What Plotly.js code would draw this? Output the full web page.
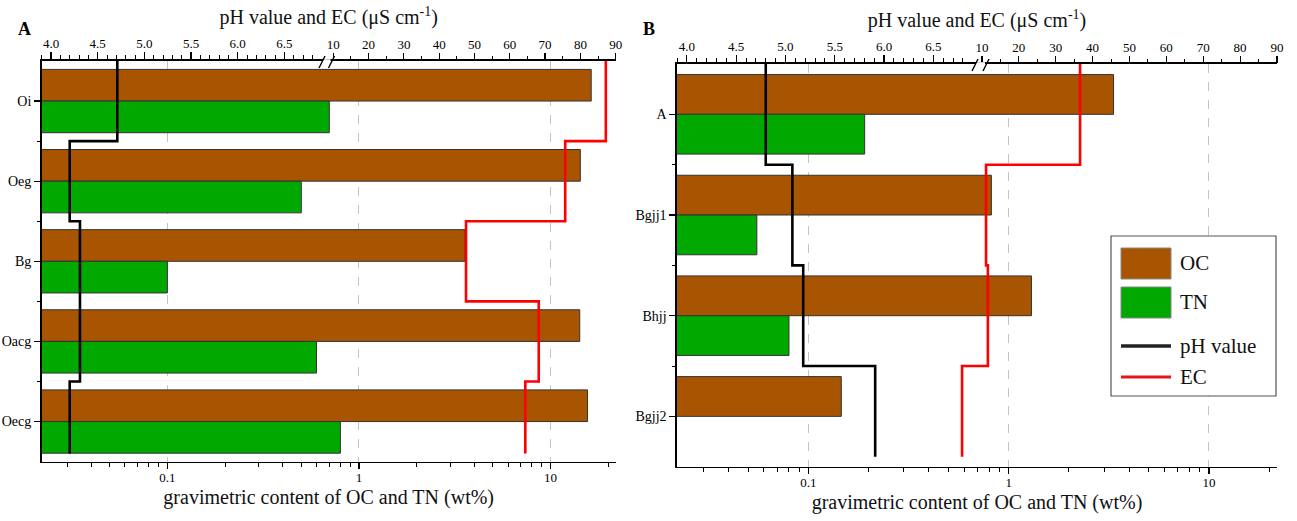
<!DOCTYPE html>
<html><head><meta charset="utf-8">
<script src="https://cdn.plot.ly/plotly-3.0.1.min.js"></script>
<style>html,body{margin:0;padding:0;background:#fff}#chart{width:1297px;height:521px}</style>
</head><body><div id="chart"></div>
<script>
// ---------- data ----------
const horizonsA = ['Oi', 'Oeg', 'Bg', 'Oacg', 'Oecg'];
const ocA = [16.3, 14.3, 3.58, 14.2, 15.6];
const tnA = [0.70, 0.50, 0.10, 0.60, 0.80];
const phA = [4.71, 4.20, 4.31, 4.31, 4.20];
const ecA = [87.2, 75.7, 47.6, 68.2, 64.4];

const horizonsB = ['A', 'Bgjj1', 'Bhjj', 'Bgjj2'];
const ocB = [3.34, 0.82, 1.30, 0.146];
const tnB = [0.191, 0.0553, 0.080, null];
const phB = [4.80, 5.07, 5.18, 5.91];
const ecB = [36.6, 11.1, 11.6, 4.6];

// ---------- tick labels ----------
const logTickVals = [0.1, 1, 10];
const logTickText = ['0.1', '1', '10'];
const logMinorVals = [0.03, 0.04, 0.05, 0.06, 0.07, 0.08, 0.09, 0.2, 0.3, 0.4, 0.5, 0.6, 0.7, 0.8, 0.9, 2, 3, 4, 5, 6, 7, 8, 9, 20];
const phTickVals = [4.0, 4.5, 5.0, 5.5, 6.0, 6.5];
const phTickText = ['4.0', '4.5', '5.0', '5.5', '6.0', '6.5'];
const phMinorVals = [3.9, 4.1, 4.2, 4.3, 4.4, 4.6, 4.7, 4.8, 4.9, 5.1, 5.2, 5.3, 5.4, 5.6, 5.7, 5.8, 5.9, 6.1, 6.2, 6.3, 6.4, 6.6, 6.7, 6.8];
const ecTickVals = [10, 20, 30, 40, 50, 60, 70, 80, 90];
const ecTickText = ['10', '20', '30', '40', '50', '60', '70', '80', '90'];
const ecMinorVals = [15, 25, 35, 45, 55, 65, 75, 85];

const seriesNames = ['OC', 'TN', 'pH value', 'EC'];
const xTitle = 'gravimetric content of OC and TN (wt%)';
const topTitle = 'pH value and EC (μS cm<sup>-1</sup>)';

// ---------- style ----------
const W = 1297, H = 521;
const FONT = 'Liberation Serif';
const cOC = 'rgb(168,84,0)', cTN = 'rgb(0,168,0)', cPH = '#000000', cEC = '#ff0000';
const barLine = {color: '#333333', width: 1};
const boxA = {x0: 41.7, x1: 615.7, y0: 61, y1: 461.6};
const boxB = {x0: 677, x1: 1277, y0: 64, y1: 466.7};
const px = x => x / W, py = y => 1 - y / H;

function idx(arr) { return arr.map((_, i) => i); }
function stepX(vals) { const o = []; vals.forEach(v => { o.push(v, v); }); return o; }
function stepY(n) { const o = []; for (let i = 0; i < n; i++) { o.push(i === 0 ? -0.5 : i - 0.5, i === n - 1 ? i + 0.4 : i + 0.5); } return o; }

const traces = [
  {type: 'bar', orientation: 'h', name: seriesNames[0], x: ocA, y: idx(horizonsA), xaxis: 'x', yaxis: 'y', marker: {color: cOC, line: barLine}},
  {type: 'bar', orientation: 'h', name: seriesNames[1], x: tnA, y: idx(horizonsA), xaxis: 'x', yaxis: 'y', marker: {color: cTN, line: barLine}},
  {type: 'scatter', mode: 'lines', name: seriesNames[2], x: stepX(phA), y: stepY(phA.length), xaxis: 'x2', yaxis: 'y', line: {color: cPH, width: 2.6}},
  {type: 'scatter', mode: 'lines', name: seriesNames[3], x: stepX(ecA), y: stepY(ecA.length), xaxis: 'x3', yaxis: 'y', line: {color: cEC, width: 2.6}},
  {type: 'bar', orientation: 'h', name: seriesNames[0], x: ocB, y: idx(horizonsB), xaxis: 'x4', yaxis: 'y2', marker: {color: cOC, line: barLine}},
  {type: 'bar', orientation: 'h', name: seriesNames[1], x: tnB, y: idx(horizonsB), xaxis: 'x4', yaxis: 'y2', marker: {color: cTN, line: barLine}},
  {type: 'scatter', mode: 'lines', name: seriesNames[2], x: stepX(phB), y: stepY(phB.length), xaxis: 'x5', yaxis: 'y2', line: {color: cPH, width: 2.6}},
  {type: 'scatter', mode: 'lines', name: seriesNames[3], x: stepX(ecB), y: stepY(ecB.length), xaxis: 'x6', yaxis: 'y2', line: {color: cEC, width: 2.6}}
];

const tickFont = {family: FONT, size: 13, color: '#000'};
function logAxis(box, anchor) {
  return {type: 'log', domain: [px(box.x0), px(box.x1)], anchor: anchor, range: [-1.656, 1.34],
    tickmode: 'array', tickvals: logTickVals, ticktext: logTickText,
    ticks: 'outside', ticklen: 6, tickwidth: 1.2, tickcolor: '#000', ticklabelstandoff: -3,
    showline: true, linewidth: 1.6, linecolor: '#000',
    showgrid: true, gridcolor: '#c4c4c4', griddash: 'dash', gridwidth: 1, zeroline: false,
    tickfont: tickFont,
    minor: {tickmode: 'array', tickvals: logMinorVals, ticks: 'outside', ticklen: 4, tickwidth: 1, tickcolor: '#000', showgrid: false},
    title: {text: xTitle, font: {family: FONT, size: 20, color: '#111'}, standoff: 6}, automargin: false, fixedrange: true};
}
function phAxis(over, anchor, maxPh) {
  return {overlaying: over, anchor: anchor, side: 'top', range: [3.9, maxPh],
    tickmode: 'array', tickvals: phTickVals, ticktext: phTickText,
    ticks: 'outside', ticklen: 7, tickwidth: 1.2, tickcolor: '#000', ticklabelstandoff: -1,
    showline: true, linewidth: 1.6, linecolor: '#000', showgrid: false, zeroline: false,
    tickfont: tickFont,
    minor: {tickmode: 'array', tickvals: phMinorVals, ticks: 'outside', ticklen: 4, tickwidth: 1, tickcolor: '#000', showgrid: false},
    title: {text: topTitle, font: {family: FONT, size: 20, color: '#111'}, standoff: 6}, automargin: false, fixedrange: true};
}
function ecAxis(over, anchor, minEc) {
  return {overlaying: over, anchor: anchor, side: 'top', range: [minEc, 90],
    tickmode: 'array', tickvals: ecTickVals, ticktext: ecTickText,
    ticks: 'outside', ticklen: 7, tickwidth: 1.2, tickcolor: '#000', ticklabelstandoff: -1,
    showline: false, showgrid: false, zeroline: false, tickfont: tickFont,
    minor: {tickmode: 'array', tickvals: ecMinorVals, ticks: 'outside', ticklen: 4, tickwidth: 1, tickcolor: '#000', showgrid: false},
    automargin: false, fixedrange: true};
}
function catAxis(box, anchor, cats) {
  const n = cats.length;
  return {domain: [py(box.y1), py(box.y0)], anchor: anchor, range: [n - 0.5, -0.5],
    tickmode: 'array', tickvals: idx(cats), ticktext: cats,
    ticks: 'outside', ticklen: 6, tickwidth: 1.2, tickcolor: '#000',
    showline: true, linewidth: 1.6, linecolor: '#000', showgrid: false, zeroline: false,
    tickfont: {family: FONT, size: 14, color: '#000'},
    minor: {tickmode: 'array', tickvals: idx(cats).slice(1).map(i => i - 0.5), ticks: 'outside', ticklen: 3, tickwidth: 1, tickcolor: '#000', showgrid: false},
    automargin: false, fixedrange: true};
}

// break marks and legend (decorations in paper coordinates)
const shapes = [];
function breakMark(c1, c2, yAxisPx) {
  shapes.push({type: 'rect', xref: 'paper', yref: 'paper', x0: px(c1 + 1), x1: px(c2 - 1), y0: py(yAxisPx + 1.8), y1: py(yAxisPx - 1.8), fillcolor: '#fff', line: {width: 0}, layer: 'above'});
  [c1, c2].forEach(c => shapes.push({type: 'line', xref: 'paper', yref: 'paper', x0: px(c - 3), y0: py(yAxisPx + 7), x1: px(c + 3), y1: py(yAxisPx - 5), line: {color: '#000', width: 1.4}, layer: 'above'}));
}
breakMark(322, 331.5, boxA.y0);
breakMark(975, 986, boxB.y0);

shapes.push({type: 'rect', xref: 'paper', yref: 'paper', x0: px(1111), x1: px(1276), y0: py(396), y1: py(236), fillcolor: '#fff', line: {color: '#555', width: 1.2}, layer: 'above'});
shapes.push({type: 'rect', xref: 'paper', yref: 'paper', x0: px(1121), x1: px(1171), y0: py(279), y1: py(248), fillcolor: cOC, line: {color: '#888', width: 1}, layer: 'above'});
shapes.push({type: 'rect', xref: 'paper', yref: 'paper', x0: px(1121), x1: px(1171), y0: py(318), y1: py(287), fillcolor: cTN, line: {color: '#888', width: 1}, layer: 'above'});
shapes.push({type: 'line', xref: 'paper', yref: 'paper', x0: px(1121), x1: px(1171), y0: py(346), y1: py(346), line: {color: '#222', width: 3.5}, layer: 'above'});
shapes.push({type: 'line', xref: 'paper', yref: 'paper', x0: px(1121), x1: px(1171), y0: py(377), y1: py(377), line: {color: '#e8141c', width: 3}, layer: 'above'});

const legFont = {family: FONT, size: 21, color: '#111'};
const annotations = [
  {text: '<b>A</b>', xref: 'paper', yref: 'paper', x: px(16), y: py(17), showarrow: false, font: {family: FONT, size: 18, color: '#000'}},
  {text: '<b>B</b>', xref: 'paper', yref: 'paper', x: px(649), y: py(17), showarrow: false, font: {family: FONT, size: 18, color: '#000'}}
];
[[seriesNames[0], 263], [seriesNames[1], 302], [seriesNames[2], 346], [seriesNames[3], 377]].forEach(([t, y]) => {
  annotations.push({text: t, xref: 'paper', yref: 'paper', x: px(1178), y: py(y), xanchor: 'left', yanchor: 'middle', showarrow: false, font: legFont});
});

const layout = {
  width: W, height: H, margin: {l: 0, r: 0, t: 0, b: 0},
  paper_bgcolor: '#fff', plot_bgcolor: '#fff', showlegend: false,
  barmode: 'group', bargap: 0.21, bargroupgap: 0,
  font: {family: FONT, color: '#000'},
  xaxis: logAxis(boxA, 'y'),
  xaxis2: phAxis('x', 'y', 10.05),
  xaxis3: ecAxis('x', 'y', -72.6),
  yaxis: catAxis(boxA, 'x', horizonsA),
  xaxis4: logAxis(boxB, 'y2'),
  xaxis5: phAxis('x4', 'y2', 9.985),
  xaxis6: ecAxis('x4', 'y2', -72.7),
  yaxis2: catAxis(boxB, 'x4', horizonsB),
  shapes: shapes, annotations: annotations
};

Plotly.newPlot('chart', traces, layout, {displayModeBar: false, staticPlot: true});
</script>
</body></html>
